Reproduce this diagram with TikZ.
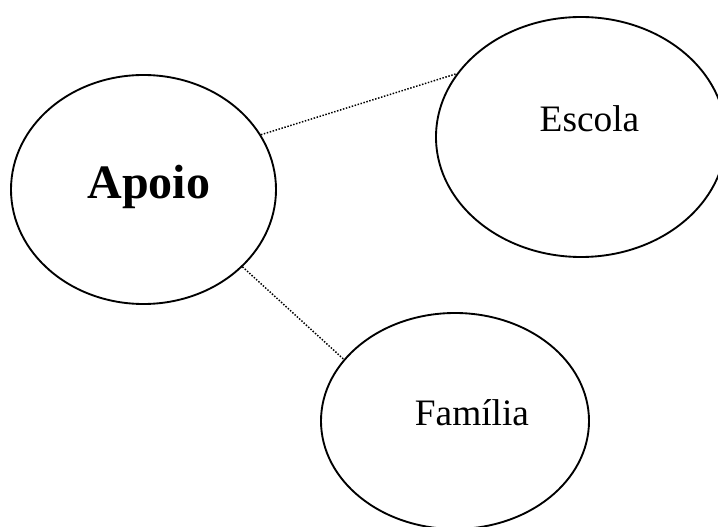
\documentclass[tikz,border=0pt]{standalone}
\usepackage{fontspec}
\setmainfont{Liberation Serif}
\usetikzlibrary{shapes.geometric}
\begin{document}
\begin{tikzpicture}[x=0.75pt,y=-0.75pt,
  bubble/.style={ellipse,draw=black,line width=1.4pt,inner sep=0pt},
  caption/.style={anchor=base,inner sep=0pt,font=\fontsize{28}{34}\selectfont},
  link/.style={line width=1.1pt,dash pattern=on 1.1pt off 1.2pt}]
\useasboundingbox (0,0) rectangle (718,527);

% the three bubbles
\node[bubble,minimum width=198.75pt,minimum height=171.75pt] (apoio) at (143.5,189.5) {};
\node[bubble,minimum width=217.5pt,minimum height=180pt] (escola) at (581,137) {};
\node[bubble,minimum width=201pt,minimum height=162pt] (familia) at (455,421) {};

% their labels
\node[caption,font=\fontsize{36}{42}\selectfont\bfseries] (tapoio) at (149,199) {Apoio};
\node[caption] (tescola) at (589.5,132) {Escola};
\node[caption] (tfamilia) at (472,426) {Família};

% dotted links
\draw[link] (apoio.25.9) -- (escola.153.8);
\draw[link] (apoio.-38.6) -- (familia.151);
\end{tikzpicture}
\end{document}
